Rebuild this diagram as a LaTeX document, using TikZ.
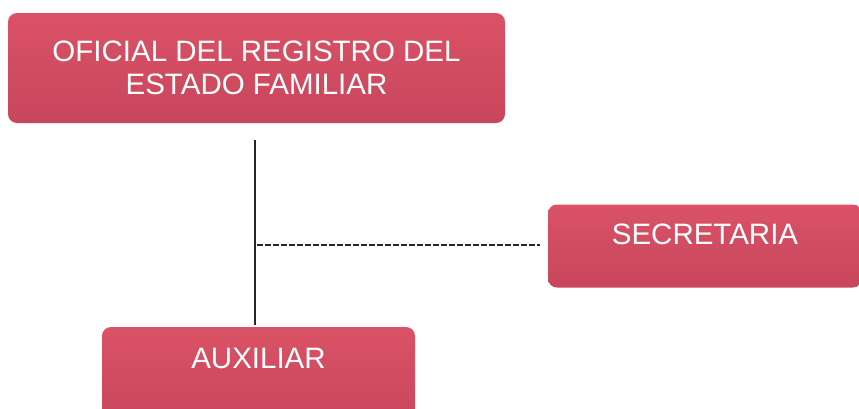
\documentclass[tikz,border=0pt]{standalone}
\usepackage{fontspec}
\setmainfont{Liberation Sans}
\usetikzlibrary{positioning}

\definecolor{cargo}{RGB}{200,70,92}
\definecolor{cargotop}{RGB}{218,82,102}

\begin{document}
\begin{tikzpicture}[
            x = 1pt, y = 1pt,
            cargo/.style = {
                draw = none,
                rounded corners = 9pt,
                top color = cargotop,
                bottom color = cargo,
                text = white,
                align = center,
                inner sep = 0pt,
                font = \fontsize{29.5}{33}\selectfont,
            },
            linea/.style = {
                draw = black!85,
                line width = 1.3pt,
            },
        ]

        % Marco
        \useasboundingbox (0,0) rectangle (859,-408);
        \clip (0,0) rectangle (859,-408);

        % Cargos
        \node[cargo, minimum width = 497pt, minimum height = 110pt] (oficial)
            at (256.5,-68) {OFICIAL DEL REGISTRO DEL\\ESTADO FAMILIAR};
        \node[cargo, minimum width = 314pt, minimum height = 83pt, text depth = 24pt] (secretaria)
            at (705,-246) {SECRETARIA};
        \node[cargo, minimum width = 313pt, minimum height = 100pt, text depth = 38pt] (auxiliar)
            at (258.5,-377) {AUXILIAR};

        % Lineas
        \coordinate (arriba) at (255,-140);
        \coordinate (abajo) at (255,-325);
        \coordinate (cruce) at (257,-245);

        \path[linea]
            (arriba) edge (abajo);

        \path[linea, line width = 1.8pt, dash pattern = on 5.5pt off 2.5pt, shorten > = 8pt]
            (cruce) edge (secretaria.west |- cruce);
    \end{tikzpicture}
\end{document}
